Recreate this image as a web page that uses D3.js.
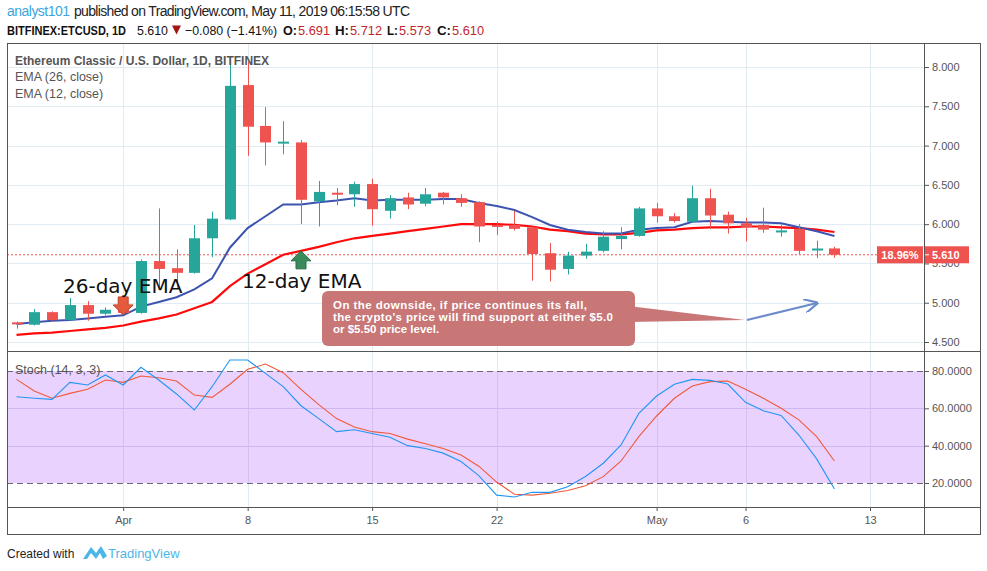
<!DOCTYPE html>
<html>
<head>
<meta charset="utf-8">
<script src="https://cdn.jsdelivr.net/npm/d3@7"></script>
<style>
body { margin: 0; background: #fff; }
svg { display: block; font-family: "Liberation Sans", Arial, sans-serif; }
</style>
</head>
<body>
<svg id="svg_chart" width="987" height="571"></svg>
<script>
// ETC/USD daily candles, 26 Mar - 11 May 2019
var dates = ["2019-03-26","2019-03-27","2019-03-28","2019-03-29","2019-03-30","2019-03-31",
	"2019-04-01","2019-04-02","2019-04-03","2019-04-04","2019-04-05","2019-04-06","2019-04-07","2019-04-08","2019-04-09","2019-04-10",
	"2019-04-11","2019-04-12","2019-04-13","2019-04-14","2019-04-15","2019-04-16","2019-04-17","2019-04-18","2019-04-19","2019-04-20",
	"2019-04-21","2019-04-22","2019-04-23","2019-04-24","2019-04-25","2019-04-26","2019-04-27","2019-04-28","2019-04-29","2019-04-30",
	"2019-05-01","2019-05-02","2019-05-03","2019-05-04","2019-05-05","2019-05-06","2019-05-07","2019-05-08","2019-05-09","2019-05-10","2019-05-11"];
var open = [4.75,4.72,4.88,4.78,4.97,4.86, 4.92,4.87,5.53,5.44,5.38,5.82,6.06,7.77,7.25,7.03,
	7.04,6.29,6.40,6.38,6.51,6.17,6.34,6.26,6.40,6.33, 6.28,5.99,5.99,5.96,5.63,5.43,5.60,5.66,5.81,5.85,
	6.20,6.10,6.03,6.33,6.12,6.01,5.99,5.91,5.94,5.68,5.691];
var high = [4.76,4.92,4.89,5.06,5.02,4.94, 4.94,5.55,6.20,5.68,5.99,6.16,8.10,8.07,7.49,7.31,
	7.07,6.55,6.46,6.54,6.58,6.37,6.40,6.46,6.41,6.38, 6.29,6.03,6.17,5.97,5.76,5.65,5.75,5.91,5.96,6.22,
	6.27,6.14,6.49,6.45,6.16,6.08,6.21,5.99,6.00,5.79,5.712];
var low = [4.67,4.71,4.77,4.77,4.77,4.84, 4.85,4.86,5.18,5.19,5.37,5.58,6.05,6.87,6.75,6.89,
	6.00,5.97,6.24,6.22,5.98,6.07,6.19,6.23,6.25,6.22, 5.77,5.86,5.92,5.28,5.27,5.36,5.56,5.64,5.68,5.84,
	6.02,6.02,6.02,5.94,5.88,5.78,5.89,5.84,5.62,5.57,5.573];
var close = [4.73,4.88,4.78,4.97,4.86,4.91, 4.87,5.53,5.43,5.38,5.82,6.07,7.76,7.24,7.04,7.05,
	6.31,6.41,6.38,6.51,6.19,6.33,6.25,6.38,6.34,6.27, 5.97,5.97,5.94,5.62,5.42,5.60,5.65,5.84,5.85,6.20,
	6.10,6.04,6.33,6.11,6.01,5.96,5.93,5.92,5.66,5.69,5.610];

// moving averages as drawn (blue = "26-day EMA", red = "12-day EMA" per the notes)
var emaBlue = [4.73,4.75,4.77,4.78,4.80,4.82, 4.84,4.95,5.01,5.07,5.17,5.31,5.70,5.95,6.10,6.25,
	6.25,6.28,6.30,6.33,6.30,6.31,6.31,6.31,6.32,6.32, 6.27,6.23,6.18,6.09,5.99,5.93,5.90,5.88,5.88,5.93,
	5.95,5.96,6.03,6.04,6.03,6.02,6.02,6.01,5.96,5.91,5.85];
var emaRed = [4.59,4.61,4.62,4.64,4.66,4.68, 4.71,4.76,4.80,4.85,4.93,5.01,5.21,5.37,5.49,5.61,
	5.66,5.71,5.77,5.82,5.85,5.88,5.91,5.94,5.97,6.00, 6.00,6.00,5.99,5.97,5.93,5.91,5.88,5.87,5.87,5.89,
	5.92,5.93,5.95,5.96,5.96,5.97,5.97,5.96,5.95,5.93,5.90];

// Stoch (14, 3, 3)
var stochK = [66.2,65.4,64.8,73.9,72.5,77.9, 72.5,82.0,75.2,67.7,59.1,71.6,85.9,85.9,78.7,71.6,
	61.4,54.5,47.5,48.5,46.5,44.5,40.0,38.5,36.0,31.5, 24.0,13.5,12.5,15.0,15.0,18.0,23.5,30.6,40.4,57.3,
	66.6,72.9,75.5,75.0,73.0,63.2,58.7,56.2,45.7,32.9,16.8];
var stochD = [75.5,69.3,65.4,68.0,70.2,75.2, 73.9,77.3,76.4,74.6,67.1,65.9,72.9,80.9,83.7,79.1,
	70.2,62.0,54.5,50.0,47.5,46.5,43.5,41.0,38.5,35.0, 29.0,20.5,14.0,13.5,14.5,16.0,18.5,23.4,31.8,44.8,
	55.9,65.4,72.0,74.3,74.6,70.2,65.4,60.0,53.8,44.8,31.8];

var priceTicks = [4.5, 5.0, 5.5, 6.0, 6.5, 7.0, 7.5, 8.0];
var stochTicks = [20, 40, 60, 80];
var timeTickDates = ["2019-04-01","2019-04-08","2019-04-15","2019-04-22","2019-05-01","2019-05-06","2019-05-13"];
var timeTickLabels = ["Apr","8","15","22","May","6","13"];

var parse = d3.utcParse("%Y-%m-%d");

function renderChart() {
	var svg = d3.select("#svg_chart");
	var frame = { left: 7, right: 980, top: 43, axisX: 924, mainBottom: 351, stochBottom: 507, bottom: 534 };

	var candles = dates.map(function(d, i) {
		return { date: parse(d), o: open[i], h: high[i], l: low[i], c: close[i],
			blue: emaBlue[i], red: emaRed[i], k: stochK[i], d: stochD[i] };
	});

	var x = d3.scaleUtc()
		.domain([parse("2019-03-26"), parse("2019-05-13")])
		.range([16.5, 870]);
	var y = d3.scaleLinear().domain([4.5, 8]).range([342, 67]);
	var ys = d3.scaleLinear().domain([20, 80]).range([483, 371]);

	var grid = svg.append("g").attr("id", "grid");
	grid.selectAll("line.v").data(timeTickDates).enter().append("line")
		.attr("x1", function(d) { return Math.round(x(parse(d))) + 0.5; })
		.attr("x2", function(d) { return Math.round(x(parse(d))) + 0.5; })
		.attr("y1", frame.top).attr("y2", frame.stochBottom)
		.attr("stroke", "#e1ebf2");
	grid.selectAll("line.h").data(priceTicks).enter().append("line")
		.attr("x1", frame.left).attr("x2", frame.axisX)
		.attr("y1", function(d) { return Math.round(y(d)) + 0.5; })
		.attr("y2", function(d) { return Math.round(y(d)) + 0.5; })
		.attr("stroke", "#e1ebf2");

	// stoch band
	var g_stoch = svg.append("g").attr("id", "stoch");
	g_stoch.append("rect")
		.attr("x", frame.left).attr("width", frame.axisX - frame.left)
		.attr("y", ys(80)).attr("height", ys(20) - ys(80))
		.attr("fill", "rgba(150,30,250,0.2)");
	g_stoch.selectAll("line.mid").data([40, 60]).enter().append("line")
		.attr("x1", frame.left).attr("x2", frame.axisX)
		.attr("y1", function(d) { return Math.round(ys(d)) + 0.5; })
		.attr("y2", function(d) { return Math.round(ys(d)) + 0.5; })
		.attr("stroke", "#cdb8f0");
	g_stoch.selectAll("line.bound").data([20, 80]).enter().append("line")
		.attr("x1", frame.left).attr("x2", frame.axisX)
		.attr("y1", function(d) { return Math.round(ys(d)) + 0.5; })
		.attr("y2", function(d) { return Math.round(ys(d)) + 0.5; })
		.attr("stroke", "#6e6478").attr("stroke-dasharray", "6,4");

	var kLine = d3.line().x(function(d) { return x(d.date); }).y(function(d) { return ys(d.k); });
	var dLine = d3.line().x(function(d) { return x(d.date); }).y(function(d) { return ys(d.d); });
	g_stoch.append("path").attr("d", dLine(candles)).attr("fill", "none")
		.attr("stroke", "#f05a3a").attr("stroke-width", 1.1);
	g_stoch.append("path").attr("d", kLine(candles)).attr("fill", "none")
		.attr("stroke", "#2196f3").attr("stroke-width", 1.1);
	g_stoch.append("text").attr("x", 15).attr("y", 374)
		.attr("font-size", 12.5).attr("fill", "#555").text("Stoch (14, 3, 3)");

	// last price dotted line
	svg.append("line")
		.attr("x1", frame.left).attr("x2", 877)
		.attr("y1", y(close[close.length - 1])).attr("y2", y(close[close.length - 1]))
		.attr("stroke", "#ef5350").attr("stroke-dasharray", "2,2");

	// moving averages
	var blueLine = d3.line().x(function(d) { return x(d.date); }).y(function(d) { return y(d.blue); });
	var redLine = d3.line().x(function(d) { return x(d.date); }).y(function(d) { return y(d.red); });
	svg.append("path").attr("d", redLine(candles)).attr("fill", "none")
		.attr("stroke", "#ff0a0a").attr("stroke-width", 2.2);
	svg.append("path").attr("d", blueLine(candles)).attr("fill", "none")
		.attr("stroke", "#3c54b0").attr("stroke-width", 2);

	// candles
	var bw = 11;
	var g_c = svg.append("g").attr("id", "candles");
	var cg = g_c.selectAll("g").data(candles).enter().append("g");
	cg.append("line")
		.attr("x1", function(d) { return Math.round(x(d.date)) + 0.5; })
		.attr("x2", function(d) { return Math.round(x(d.date)) + 0.5; })
		.attr("y1", function(d) { return y(d.h); })
		.attr("y2", function(d) { return y(d.l); })
		.attr("stroke", function(d) { return d.c >= d.o ? "#26a69a" : "#ef5350"; });
	cg.append("rect")
		.attr("x", function(d) { return Math.round(x(d.date)) + 0.5 - bw / 2; })
		.attr("width", bw)
		.attr("y", function(d) { return y(Math.max(d.o, d.c)); })
		.attr("height", function(d) { return Math.max(2, Math.abs(y(d.o) - y(d.c))); })
		.attr("fill", function(d) { return d.c >= d.o ? "#26a69a" : "#ef5350"; });

	// notes on the chart
	var redTip = { date: parse("2019-04-01"), v: 4.845 };
	var greenTip = { date: parse("2019-04-11"), v: 5.66 };
	var rx = x(redTip.date), ry = y(redTip.v);
	svg.append("path")
		.attr("d", "M" + (rx - 5) + "," + (ry - 18) + "h10v8h5l-10,10l-10,-10h5z")
		.attr("fill", "#e55a3c").attr("stroke", "#c0452c");
	var gx = x(greenTip.date), gy = y(greenTip.v);
	svg.append("path")
		.attr("d", "M" + gx + "," + gy + "l10,10h-5v8h-10v-8h-5z")
		.attr("fill", "#3a8b5c").attr("stroke", "#2a6c46");

	svg.append("text").attr("x", 63).attr("y", 293)
		.attr("font-family", "DejaVu Sans").attr("font-size", 20).attr("fill", "#111")
		.text("26-day EMA");
	svg.append("text").attr("x", 242).attr("y", 288)
		.attr("font-family", "DejaVu Sans").attr("font-size", 20).attr("fill", "#111")
		.text("12-day EMA");

	// call-out box
	var note = svg.append("g").attr("id", "note");
	note.append("path").attr("d", "M628,306L745,320L628,322z").attr("fill", "#c87676");
	note.append("rect").attr("x", 322).attr("y", 291).attr("width", 313).attr("height", 55)
		.attr("rx", 6).attr("fill", "#c87676");
	var noteLines = ["On the downside, if price continues its fall,",
		"the crypto's price will find support at either $5.0",
		"or $5.50 price level."];
	note.selectAll("text").data(noteLines).enter().append("text")
		.attr("x", 333).attr("y", function(d, i) { return 309 + i * 12; })
		.attr("font-size", 11.5).attr("font-weight", "bold").attr("fill", "#fff")
		.attr("textLength", function(d, i) { return [254, 280, 0][i] || null; })
		.text(function(d) { return d; });

	svg.append("defs").append("marker").attr("id", "arrowhead")
		.attr("viewBox", "0 0 10 10").attr("refX", 9).attr("refY", 5)
		.attr("markerWidth", 7).attr("markerHeight", 7).attr("orient", "auto")
		.append("path").attr("d", "M0,0L10,5L0,10").attr("fill", "none")
		.attr("stroke", "#6a8cc8").attr("stroke-width", 1.5);
	svg.append("line").attr("x1", 747).attr("y1", 320).attr("x2", 817).attr("y2", 303)
		.attr("stroke", "#6a8cc8").attr("stroke-width", 2).attr("marker-end", "url(#arrowhead)");

	// legend
	svg.append("text").attr("x", 15).attr("y", 65).attr("font-size", 12)
		.attr("font-weight", "bold").attr("fill", "#555")
		.text("Ethereum Classic / U.S. Dollar, 1D, BITFINEX");
	svg.append("text").attr("x", 15).attr("y", 81).attr("font-size", 12.5).attr("fill", "#555")
		.text("EMA (26, close)");
	svg.append("text").attr("x", 15).attr("y", 98).attr("font-size", 12.5).attr("fill", "#555")
		.text("EMA (12, close)");

	// axes
	var priceAxis = d3.axisRight(y).tickValues(priceTicks).tickFormat(d3.format(".3f"))
		.tickSize(5).tickPadding(3);
	var g_pa = svg.append("g").attr("transform", "translate(" + frame.axisX + ",0)").call(priceAxis);
	var stochAxis = d3.axisRight(ys).tickValues(stochTicks).tickFormat(d3.format(".4f"))
		.tickSize(5).tickPadding(3);
	var g_sa = svg.append("g").attr("transform", "translate(" + frame.axisX + ",0)").call(stochAxis);
	var timeAxis = d3.axisBottom(x).tickValues(timeTickDates.map(parse))
		.tickFormat(function(d, i) { return timeTickLabels[i]; })
		.tickSize(4).tickPadding(5);
	var g_ta = svg.append("g").attr("transform", "translate(0," + frame.stochBottom + ")").call(timeAxis);
	[g_pa, g_sa, g_ta].forEach(function(g) {
		g.select(".domain").remove();
		g.selectAll("line").attr("stroke", "#555");
		g.selectAll("text").attr("fill", "#555").attr("font-size", 11)
			.attr("font-family", "Liberation Sans, Arial, sans-serif");
	});

	// last price tag
	var ly = y(close[close.length - 1]);
	svg.append("rect").attr("x", 877).attr("y", ly - 8.5).attr("width", 46).attr("height", 17).attr("fill", "#ef5350");
	svg.append("rect").attr("x", 925).attr("y", ly - 8.5).attr("width", 44).attr("height", 17).attr("fill", "#ef5350");
	svg.append("line").attr("x1", 924).attr("x2", 929).attr("y1", ly).attr("y2", ly).attr("stroke", "#fff");
	svg.append("text").attr("x", 900).attr("y", ly + 4).attr("text-anchor", "middle")
		.attr("font-size", 11).attr("font-weight", "bold").attr("fill", "#fff").text("18.96%");
	svg.append("text").attr("x", 932).attr("y", ly + 4)
		.attr("font-size", 11).attr("font-weight", "bold").attr("fill", "#fff").text("5.610");

	// frame
	var fr = svg.append("g").attr("fill", "none").attr("stroke", "#555");
	fr.append("rect").attr("x", frame.left + 0.5).attr("y", frame.top + 0.5)
		.attr("width", frame.right - frame.left).attr("height", frame.bottom - frame.top);
	fr.append("line").attr("x1", frame.axisX + 0.5).attr("x2", frame.axisX + 0.5)
		.attr("y1", frame.top).attr("y2", frame.bottom);
	fr.append("line").attr("x1", frame.left).attr("x2", frame.right)
		.attr("y1", frame.mainBottom + 0.5).attr("y2", frame.mainBottom + 0.5);
	fr.append("line").attr("x1", frame.left).attr("x2", frame.right)
		.attr("y1", frame.stochBottom + 0.5).attr("y2", frame.stochBottom + 0.5);

	// header, pieces placed where the original has them
	svg.append("text").attr("x", 7).attr("y", 16).attr("font-size", 14).attr("fill", "#3ba7e0")
		.attr("textLength", 63).text("analyst101");
	svg.append("text").attr("x", 74).attr("y", 16).attr("font-size", 14).attr("fill", "#222")
		.attr("textLength", 336).text("published on TradingView.com, May 11, 2019 06:15:58 UTC");
	var head2 = [
		{ x: 7, w: 119, t: "BITFINEX:ETCUSD, 1D", b: true, c: "#111" },
		{ x: 137, w: 31, t: "5.610", b: false, c: "#111" },
		{ x: 185, w: 92, t: "\u22120.080 (\u22121.41%)", b: false, c: "#111" },
		{ x: 283, w: 14, t: "O:", b: true, c: "#111" }, { x: 298, w: 32, t: "5.691", b: false, c: "#c0262d" },
		{ x: 335, w: 14, t: "H:", b: true, c: "#111" }, { x: 350, w: 32, t: "5.712", b: false, c: "#c0262d" },
		{ x: 387, w: 11, t: "L:", b: true, c: "#111" }, { x: 399, w: 32, t: "5.573", b: false, c: "#c0262d" },
		{ x: 437, w: 14, t: "C:", b: true, c: "#111" }, { x: 452, w: 32, t: "5.610", b: false, c: "#c0262d" }
	];
	svg.selectAll("text.head2").data(head2).enter().append("text")
		.attr("class", "head2")
		.attr("x", function(d) { return d.x; }).attr("y", 35)
		.attr("font-size", 13).attr("font-weight", function(d) { return d.b ? "bold" : "normal"; })
		.attr("fill", function(d) { return d.c; })
		.attr("textLength", function(d) { return d.w; })
		.attr("lengthAdjust", "spacingAndGlyphs")
		.text(function(d) { return d.t; });
	svg.append("path").attr("d", "M172,25.5h9l-4.5,9z").attr("fill", "#a31515");

	// footer
	svg.append("text").attr("x", 7).attr("y", 558).attr("font-size", 12).attr("fill", "#222").text("Created with");
	svg.append("path").attr("d", "M83,559L91,547L96,553L101,546L107,556L103,559L100,553L96,559L91,553L87,559z")
		.attr("fill", "#4db6e8");
	svg.append("text").attr("x", 108).attr("y", 558).attr("font-size", 13).attr("fill", "#4db6e8").text("TradingView");
}

renderChart();
</script>
</body>
</html>
